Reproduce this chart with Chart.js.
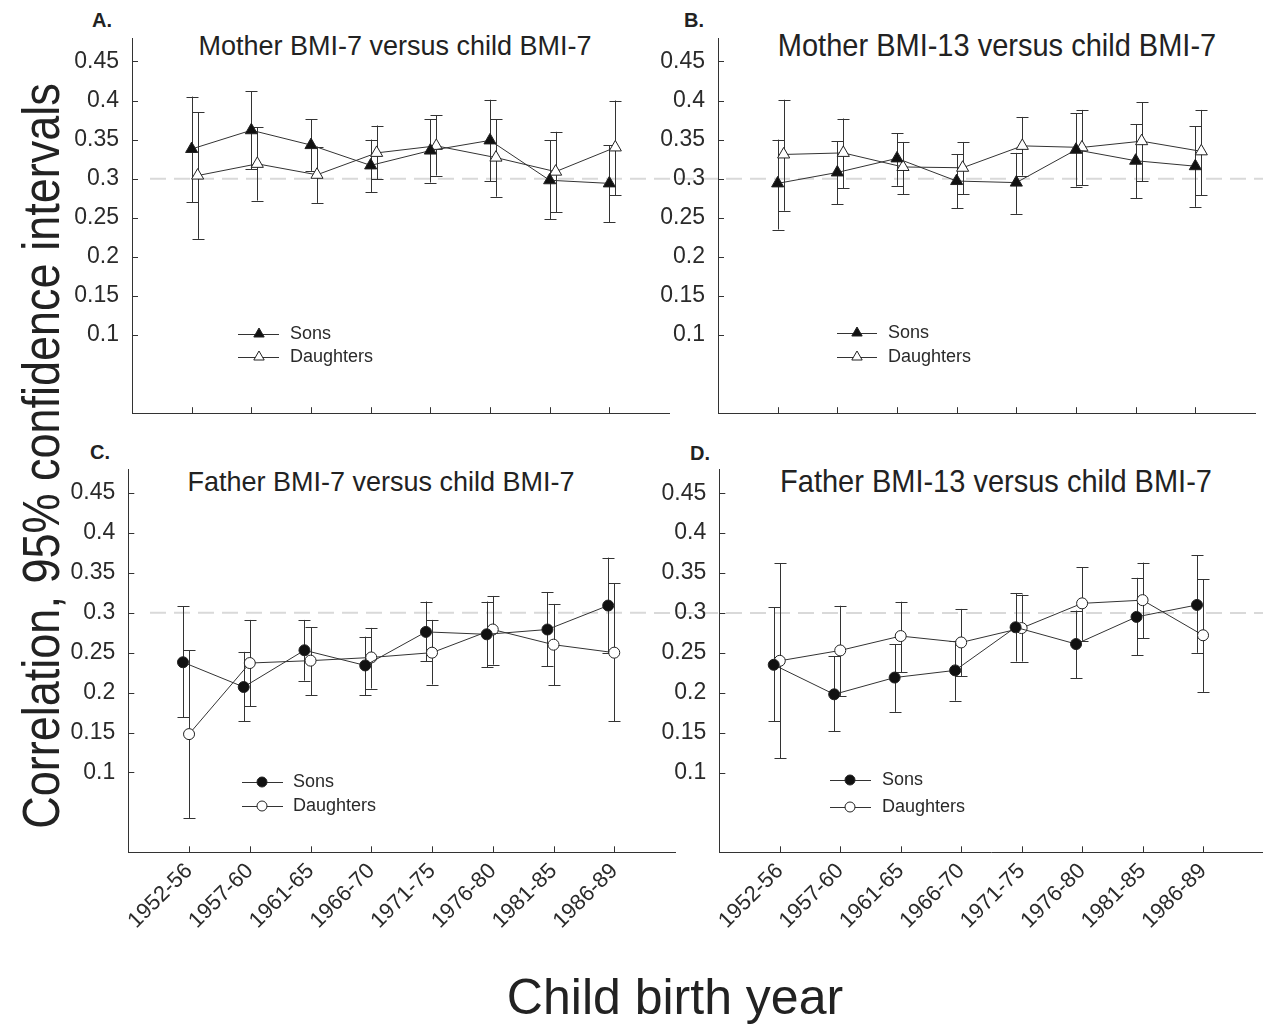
<!DOCTYPE html>
<html><head><meta charset="utf-8">
<script src="https://cdn.jsdelivr.net/npm/chart.js@4.4.1/dist/chart.umd.min.js"></script>
<style>
html,body{margin:0;padding:0;background:#fff;overflow:hidden;width:1263px;height:1024px;}
#wrap{position:relative;width:1263px;height:1024px;overflow:hidden;font-family:'Liberation Sans',Arial,sans-serif;color:#222;}
canvas{position:absolute;}
.t{position:absolute;white-space:nowrap;line-height:1;}
.lbl{font-weight:bold;font-size:20px;}
</style></head><body><div id="wrap">
<div class="t lbl" style="left:92px;top:10px;">A.</div>
<div class="t lbl" style="left:684px;top:10px;">B.</div>
<div class="t lbl" style="left:90px;top:442px;">C.</div>
<div class="t lbl" style="left:690px;top:443px;">D.</div>
<div class="t" style="left:395px;top:33px;font-size:27px;transform:translateX(-50%) scaleY(1.05);">Mother BMI-7 versus child BMI-7</div>
<div class="t" style="left:997px;top:32px;font-size:29px;transform:translateX(-50%) scaleY(1.05);">Mother BMI-13 versus child BMI-7</div>
<div class="t" style="left:381px;top:469px;font-size:27px;transform:translateX(-50%) scaleY(1.05);">Father BMI-7 versus child BMI-7</div>
<div class="t" style="left:996px;top:468px;font-size:29px;transform:translateX(-50%) scaleY(1.05);">Father BMI-13 versus child BMI-7</div>
<div class="t" style="left:41px;top:456px;font-size:45px;transform:translate(-50%,-50%) rotate(-90deg) scaleY(1.15);">Correlation, 95% confidence intervals</div>
<div class="t" style="left:675px;top:972px;font-size:50px;transform:translateX(-50%);">Child birth year</div>
</div>
<script>
// ---------- data ----------
const categories = ['1952-56','1957-60','1961-65','1966-70','1971-75','1976-80','1981-85','1986-89'];
const yTickValues = [0.1, 0.15, 0.2, 0.25, 0.3, 0.35, 0.4, 0.45];
const yTickLabels = ['0.1','0.15','0.2','0.25','0.3','0.35','0.4','0.45'];
const seriesNames = ['Sons', 'Daughters'];
const refValue = 0.3;

// A. Mother BMI-7 versus child BMI-7
const aSons     = [0.338, 0.362, 0.343, 0.317, 0.336, 0.349, 0.298, 0.294];
const aSonsLow  = [0.270, 0.312, 0.310, 0.283, 0.295, 0.297, 0.248, 0.244];
const aSonsHigh = [0.405, 0.412, 0.376, 0.350, 0.376, 0.401, 0.349, 0.343];
const aDau      = [0.304, 0.319, 0.305, 0.333, 0.342, 0.327, 0.309, 0.340];
const aDauLow   = [0.223, 0.272, 0.269, 0.299, 0.304, 0.277, 0.257, 0.279];
const aDauHigh  = [0.385, 0.366, 0.341, 0.368, 0.381, 0.376, 0.360, 0.400];

// B. Mother BMI-13 versus child BMI-7
const bSons     = [0.294, 0.308, 0.326, 0.297, 0.295, 0.337, 0.323, 0.316];
const bSonsLow  = [0.235, 0.267, 0.291, 0.262, 0.255, 0.290, 0.275, 0.264];
const bSonsHigh = [0.350, 0.348, 0.358, 0.331, 0.333, 0.384, 0.370, 0.367];
const bDau      = [0.331, 0.333, 0.315, 0.314, 0.342, 0.340, 0.348, 0.335];
const bDauLow   = [0.259, 0.288, 0.280, 0.280, 0.304, 0.292, 0.297, 0.279];
const bDauHigh  = [0.401, 0.377, 0.347, 0.347, 0.379, 0.388, 0.398, 0.388];

// C. Father BMI-7 versus child BMI-7
const cSons     = [0.238, 0.207, 0.253, 0.234, 0.276, 0.273, 0.279, 0.309];
const cSonsLow  = [0.169, 0.164, 0.215, 0.197, 0.239, 0.232, 0.233, 0.249];
const cSonsHigh = [0.308, 0.251, 0.291, 0.270, 0.314, 0.314, 0.326, 0.369];
const cDau      = [0.148, 0.237, 0.240, 0.244, 0.250, 0.279, 0.260, 0.250];
const cDauLow   = [0.043, 0.183, 0.197, 0.205, 0.210, 0.235, 0.209, 0.164];
const cDauHigh  = [0.253, 0.291, 0.282, 0.281, 0.291, 0.321, 0.311, 0.337];

// D. Father BMI-13 versus child BMI-7
const dSons     = [0.235, 0.198, 0.219, 0.228, 0.282, 0.261, 0.295, 0.310];
const dSonsLow  = [0.164, 0.152, 0.176, 0.190, 0.239, 0.218, 0.247, 0.250];
const dSonsHigh = [0.307, 0.246, 0.261, 0.265, 0.325, 0.303, 0.344, 0.372];
const dDau      = [0.240, 0.253, 0.271, 0.263, 0.281, 0.312, 0.316, 0.272];
const dDauLow   = [0.118, 0.196, 0.226, 0.221, 0.239, 0.265, 0.268, 0.201];
const dDauHigh  = [0.362, 0.309, 0.314, 0.305, 0.323, 0.357, 0.363, 0.342];

// ---------- layout / styling ----------
const FONT = "'Liberation Sans', Arial, sans-serif";
const INK = '#2a2a2a';
const wrap = document.getElementById('wrap');

const panels = [
  {sons:aSons, sonsLow:aSonsLow, sonsHigh:aSonsHigh, dau:aDau, dauLow:aDauLow, dauHigh:aDauHigh,
   marker:'triangle', r:7, offS:0, offD:0.1,
   left:0, top:0, w:690, h:440, padT:38, padR:21, padB:26, yW:132, xH:0, showX:false,
   refFrom:150, refTo:650, leg:{x1:238, x2:279, m:259, tx:290, y1:334, y2:357}},
  {sons:bSons, sonsLow:bSonsLow, sonsHigh:bSonsHigh, dau:bDau, dauLow:bDauLow, dauHigh:bDauHigh,
   marker:'triangle', r:7, offS:0, offD:0.1,
   left:640, top:0, w:623, h:440, padT:38, padR:4, padB:26, yW:78, xH:0, showX:false,
   refFrom:650, refTo:1263, leg:{x1:837, x2:877, m:857, tx:888, y1:333, y2:357}},
  {sons:cSons, sonsLow:cSonsLow, sonsHigh:cSonsHigh, dau:cDau, dauLow:cDauLow, dauHigh:cDauHigh,
   marker:'circle', r:5.5, offS:-0.1, offD:0,
   left:0, top:440, w:690, h:584, padT:29, padR:15, padB:0, yW:128.3, xH:171.7, showX:true,
   refFrom:150, refTo:650, leg:{x1:242, x2:283, m:262, tx:293, y1:782, y2:806}},
  {sons:dSons, sonsLow:dSonsLow, sonsHigh:dSonsHigh, dau:dDau, dauLow:dDauLow, dauHigh:dDauHigh,
   marker:'circle', r:5.5, offS:-0.1, offD:0,
   left:640, top:440, w:630, h:584, padT:29.3, padR:4, padB:0, yW:79.3, xH:171.7, showX:true,
   refFrom:650, refTo:1263, leg:{x1:830, x2:871, m:850, tx:882, y1:780, y2:807}}
];

function drawMarker(ctx, style, r, x, y, filled) {
  ctx.beginPath();
  if (style === 'triangle') {
    ctx.moveTo(x, y - r);
    ctx.lineTo(x + r * 0.866, y + r * 0.5);
    ctx.lineTo(x - r * 0.866, y + r * 0.5);
    ctx.closePath();
  } else {
    ctx.arc(x, y, r, 0, Math.PI * 2);
  }
  ctx.fillStyle = filled ? '#111' : '#fff';
  ctx.fill();
  ctx.lineWidth = 1; ctx.strokeStyle = '#222';
  ctx.stroke();
}

function makeChart(p) {
  const cv = document.createElement('canvas');
  cv.width = p.w; cv.height = p.h;
  cv.style.left = p.left + 'px'; cv.style.top = p.top + 'px';
  cv.style.width = p.w + 'px'; cv.style.height = p.h + 'px';
  wrap.appendChild(cv);

  const ds = (vals, off, filled) => ({
    data: vals.map((v, i) => ({x: i + off, y: v})),
    showLine: true, borderColor: '#333', borderWidth: 1, tension: 0,
    pointStyle: p.marker, pointRadius: p.r, pointHoverRadius: p.r,
    pointBackgroundColor: filled ? '#111' : '#fff', pointBorderColor: '#222', pointBorderWidth: 1,
    clip: false
  });

  const bars = [
    {lo: p.sonsLow, hi: p.sonsHigh, off: p.offS},
    {lo: p.dauLow, hi: p.dauHigh, off: p.offD}
  ];

  const deco = {
    id: 'deco',
    beforeDraw(chart) {
      const {ctx, scales: {y}} = chart;
      const py = y.getPixelForValue(refValue);
      ctx.save();
      ctx.strokeStyle = '#d9d9d9'; ctx.lineWidth = 2;
      ctx.setLineDash([16, 8]);
      ctx.lineDashOffset = (p.refFrom - 150) % 24;
      ctx.beginPath();
      ctx.moveTo(p.refFrom - p.left, py); ctx.lineTo(p.refTo - p.left, py);
      ctx.stroke();
      ctx.restore();
    },
    beforeDatasetsDraw(chart) {
      const {ctx, scales: {x, y}} = chart;
      ctx.save();
      ctx.strokeStyle = '#333'; ctx.lineWidth = 1;
      bars.forEach(b => {
        b.lo.forEach((lo, i) => {
          const px = Math.round(x.getPixelForValue(i + b.off)) + 0.5;
          const y1 = y.getPixelForValue(lo), y2 = y.getPixelForValue(b.hi[i]);
          ctx.beginPath();
          ctx.moveTo(px, y1); ctx.lineTo(px, y2);
          ctx.moveTo(px - 6, Math.round(y1) + 0.5); ctx.lineTo(px + 6, Math.round(y1) + 0.5);
          ctx.moveTo(px - 6, Math.round(y2) + 0.5); ctx.lineTo(px + 6, Math.round(y2) + 0.5);
          ctx.stroke();
        });
      });
      ctx.restore();
    },
    afterDraw(chart) {
      const {ctx, chartArea: ca, scales: {x, y}} = chart;
      ctx.save();
      ctx.strokeStyle = '#333'; ctx.lineWidth = 1;
      ctx.beginPath();
      yTickValues.forEach(v => {
        const py = Math.round(y.getPixelForValue(v)) + 0.5;
        ctx.moveTo(ca.left, py); ctx.lineTo(ca.left + 6, py);
      });
      categories.forEach((c, i) => {
        const px = Math.round(x.getPixelForValue(i)) + 0.5;
        ctx.moveTo(px, ca.bottom); ctx.lineTo(px, ca.bottom - 6);
      });
      ctx.stroke();
      // legend
      const L = p.leg, ox = p.left, oy = p.top;
      [L.y1, L.y2].forEach((ly, k) => {
        const yy = ly - oy;
        ctx.beginPath(); ctx.strokeStyle = '#333'; ctx.lineWidth = 1;
        ctx.moveTo(L.x1 - ox, yy + 0.5); ctx.lineTo(L.x2 - ox, yy + 0.5); ctx.stroke();
        drawMarker(ctx, p.marker, p.marker === 'triangle' ? 6 : 5, L.m - ox, yy, k === 0);
        ctx.fillStyle = INK; ctx.font = '18px ' + FONT;
        ctx.textAlign = 'left'; ctx.textBaseline = 'middle';
        ctx.fillText(seriesNames[k], L.tx - ox, yy);
      });
      ctx.restore();
    }
  };

  new Chart(cv, {
    type: 'line',
    data: {datasets: [ds(p.sons, p.offS, true), ds(p.dau, p.offD, false)]},
    options: {
      responsive: false, animation: false, devicePixelRatio: 1,
      layout: {padding: {left: 0, top: p.padT, right: p.padR, bottom: p.padB}},
      plugins: {legend: {display: false}, tooltip: {enabled: false}, title: {display: false}},
      scales: {
        x: {
          type: 'linear', min: -1, max: 8,
          afterBuildTicks: s => { s.ticks = categories.map((c, i) => ({value: i})); },
          afterFit: s => { s.height = p.xH; },
          grid: {display: false, drawTicks: false},
          border: {display: true, color: '#333', width: 1},
          ticks: {display: p.showX, autoSkip: false, minRotation: 45, maxRotation: 45, padding: 6,
                  color: INK, font: {family: FONT, size: 22},
                  callback: v => categories[Math.round(v)]}
        },
        y: {
          type: 'linear', min: 0, max: 0.48,
          afterBuildTicks: s => { s.ticks = yTickValues.map(v => ({value: v})); },
          afterFit: s => { s.width = p.yW; },
          grid: {display: false, drawTicks: false},
          border: {display: true, color: '#333', width: 1},
          ticks: {padding: 13, color: INK, font: {family: FONT, size: 23},
                  callback: (v, i) => yTickLabels[i]}
        }
      }
    },
    plugins: [deco]
  });
}

panels.forEach(makeChart);
</script>
</body></html>
